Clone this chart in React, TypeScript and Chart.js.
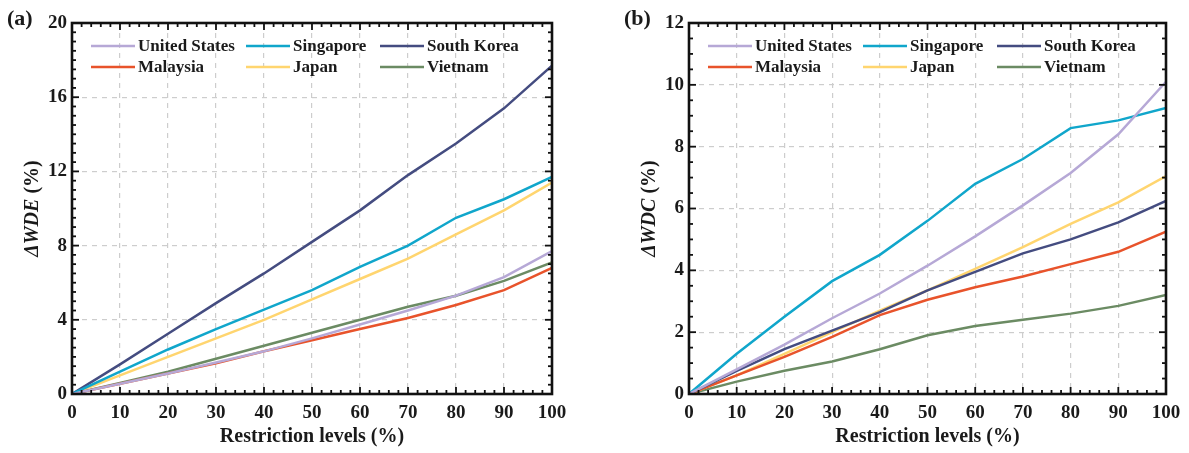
import React, { useEffect, useRef } from "react";
import { Chart, registerables } from "chart.js";

Chart.register(...registerables);

// ---------- data ----------
const levels = [0, 10, 20, 30, 40, 50, 60, 70, 80, 90, 100];
const countries = ["United States", "Singapore", "South Korea", "Malaysia", "Japan", "Vietnam"];
const colors = ["#b6a8d6", "#10a6cb", "#444c80", "#e8532b", "#ffd56f", "#6b8b63"];

// Panel (a) ΔWDE (%)
const wdeUS = [0, 0.55, 1.1, 1.7, 2.3, 3.0, 3.75, 4.5, 5.3, 6.3, 7.7];
const wdeSG = [0, 1.2, 2.4, 3.5, 4.55, 5.6, 6.85, 8.0, 9.5, 10.5, 11.7];
const wdeKR = [0, 1.6, 3.25, 4.9, 6.5, 8.2, 9.9, 11.8, 13.5, 15.4, 17.7];
const wdeMY = [0, 0.55, 1.1, 1.65, 2.3, 2.9, 3.5, 4.1, 4.8, 5.6, 6.8];
const wdeJP = [0, 1.0, 2.0, 3.0, 4.0, 5.1, 6.2, 7.3, 8.6, 9.9, 11.4];
const wdeVN = [0, 0.6, 1.2, 1.9, 2.6, 3.3, 4.0, 4.7, 5.3, 6.1, 7.1];

// Panel (b) ΔWDC (%)
const wdcUS = [0, 0.8, 1.6, 2.45, 3.25, 4.15, 5.1, 6.1, 7.15, 8.4, 10.1];
const wdcSG = [0, 1.3, 2.5, 3.65, 4.5, 5.6, 6.8, 7.6, 8.6, 8.85, 9.25];
const wdcKR = [0, 0.75, 1.45, 2.05, 2.65, 3.35, 3.95, 4.55, 5.0, 5.55, 6.25];
const wdcMY = [0, 0.6, 1.2, 1.85, 2.55, 3.05, 3.45, 3.8, 4.2, 4.6, 5.25];
const wdcJP = [0, 0.6, 1.3, 2.0, 2.7, 3.35, 4.05, 4.75, 5.5, 6.2, 7.05];
const wdcVN = [0, 0.4, 0.75, 1.05, 1.45, 1.9, 2.2, 2.4, 2.6, 2.85, 3.2];

const xTitle = "Restriction levels (%)";

const FONT = "'Liberation Serif', 'Times New Roman', serif";

type PanelCfg = {
  label: string;
  yVar: string;
  series: number[][];
  yMax: number;
  yStep: number;
  width: number;
  yAxisWidth: number;
  rightPad: number;
};

function makeDecor(cfg: PanelCfg) {
  return {
    id: "decor",
    afterDraw(chart: any) {
      const ctx = chart.ctx as CanvasRenderingContext2D;
      const { left, right, top, bottom } = chart.chartArea;
      const xs = chart.scales.x;
      const ys = chart.scales.y;
      ctx.save();
      // frame
      ctx.strokeStyle = "#111";
      ctx.lineWidth = 2.6;
      ctx.strokeRect(left, top, right - left, bottom - top);
      // ticks
      ctx.lineWidth = 1.8;
      const seg = (x1: number, y1: number, x2: number, y2: number) => {
        ctx.beginPath();
        ctx.moveTo(x1, y1);
        ctx.lineTo(x2, y2);
        ctx.stroke();
      };
      for (let v = 0; v <= 100; v += 2) {
        const px = xs.getPixelForValue(v);
        const len = v % 10 === 0 ? 7 : 4;
        seg(px, bottom, px, bottom - len);
        seg(px, top, px, top + len);
      }
      const n = Math.round(cfg.yMax / 0.5);
      for (let k = 0; k <= n; k++) {
        const v = k * 0.5;
        const py = ys.getPixelForValue(v);
        const major = Math.abs(v / cfg.yStep - Math.round(v / cfg.yStep)) < 1e-6;
        const len = major ? 7 : 4;
        seg(left, py, left + len, py);
        seg(right, py, right - len, py);
      }
      // legend
      const colX = [19, 174, 308];
      const rowY = [top + 23, top + 44];
      ctx.font = `bold 17px ${FONT}`;
      ctx.textBaseline = "middle";
      ctx.textAlign = "left";
      chart.data.datasets.forEach((ds: any, i: number) => {
        const cx = left + colX[i % 3];
        const cy = rowY[Math.floor(i / 3)];
        ctx.strokeStyle = ds.borderColor;
        ctx.lineWidth = 2.5;
        seg(cx, cy, cx + 44, cy);
        ctx.fillStyle = "#1a1a1a";
        ctx.fillText(ds.label, cx + 47, cy + 1);
      });
      // x title
      ctx.font = `bold 20px ${FONT}`;
      ctx.textAlign = "center";
      ctx.fillStyle = "#1a1a1a";
      ctx.fillText(xTitle, (left + right) / 2, 437);
      // panel label
      ctx.font = `bold 22px ${FONT}`;
      ctx.textAlign = "left";
      ctx.fillText(cfg.label, left - 65, 19);
      // y title (mixed styles)
      const cy = (top + bottom) / 2;
      const partA = "\u0394" + cfg.yVar;
      const partB = " (%)";
      ctx.font = `italic bold 20px ${FONT}`;
      const wA = ctx.measureText(partA).width;
      ctx.font = `bold 20px ${FONT}`;
      const wB = ctx.measureText(partB).width;
      const total = wA + wB;
      ctx.translate(left - 39, cy);
      ctx.rotate(-Math.PI / 2);
      ctx.textAlign = "left";
      ctx.font = `italic bold 20px ${FONT}`;
      ctx.fillText(partA, -total / 2, 0);
      ctx.font = `bold 20px ${FONT}`;
      ctx.fillText(partB, -total / 2 + wA, 0);
      ctx.restore();
    },
  };
}

function Panel({ cfg }: { cfg: PanelCfg }) {
  const ref = useRef<HTMLCanvasElement>(null);
  useEffect(() => {
    if (!ref.current) return;
    const tickFont = { family: FONT, size: 19, weight: "bold" as const };
    const chart = new Chart(ref.current, {
      type: "line",
      data: {
        datasets: countries.map((c, i) => ({
          label: c,
          data: levels.map((x, j) => ({ x, y: cfg.series[i][j] })),
          borderColor: colors[i],
          backgroundColor: colors[i],
          borderWidth: 2.5,
          pointRadius: 0,
          tension: 0,
          fill: false,
        })),
      },
      options: {
        animation: false,
        responsive: false,
        layout: { padding: { top: 23, right: cfg.rightPad, left: 0, bottom: 0 } },
        plugins: { legend: { display: false }, tooltip: { enabled: false } },
        scales: {
          x: {
            type: "linear",
            min: 0,
            max: 100,
            ticks: { stepSize: 10, color: "#1a1a1a", font: tickFont, padding: 8, maxRotation: 0 },
            grid: { color: "#cdcdcd", lineWidth: 1.2, drawTicks: false },
            border: { display: false, dash: [5, 5] },
            afterFit: (s: any) => {
              s.height = 59;
            },
          },
          y: {
            type: "linear",
            min: 0,
            max: cfg.yMax,
            ticks: { stepSize: cfg.yStep, color: "#1a1a1a", font: tickFont, padding: 5 },
            grid: { color: "#cdcdcd", lineWidth: 1.2, drawTicks: false },
            border: { display: false, dash: [5, 5] },
            afterFit: (s: any) => {
              s.width = cfg.yAxisWidth;
            },
          },
        },
      },
      plugins: [makeDecor(cfg)],
    });
    return () => chart.destroy();
  }, [cfg]);
  return <canvas ref={ref} width={cfg.width} height={453} style={{ display: "block" }} />;
}

const panelA: PanelCfg = {
  label: "(a)",
  yVar: "WDE",
  series: [wdeUS, wdeSG, wdeKR, wdeMY, wdeJP, wdeVN],
  yMax: 20,
  yStep: 4,
  width: 600,
  yAxisWidth: 72,
  rightPad: 48,
};

const panelB: PanelCfg = {
  label: "(b)",
  yVar: "WDC",
  series: [wdcUS, wdcSG, wdcKR, wdcMY, wdcJP, wdcVN],
  yMax: 12,
  yStep: 2,
  width: 589,
  yAxisWidth: 89,
  rightPad: 23,
};

export default function App() {
  return (
    <div
      style={{
        position: "absolute",
        left: 0,
        top: 0,
        width: 1189,
        height: 453,
        background: "#fff",
        display: "flex",
      }}
    >
      <Panel cfg={panelA} />
      <Panel cfg={panelB} />
    </div>
  );
}
